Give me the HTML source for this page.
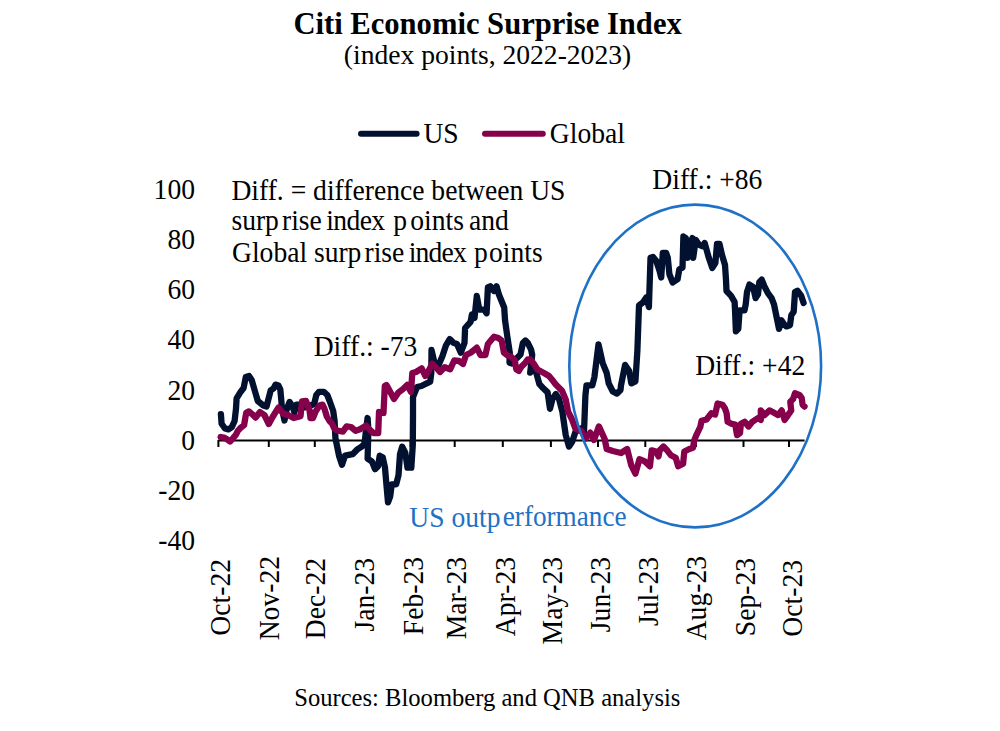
<!DOCTYPE html>
<html><head><meta charset="utf-8"><style>
html,body{margin:0;padding:0;background:#fff;}
body{width:1000px;height:731px;position:relative;overflow:hidden;font-family:"Liberation Serif",serif;color:#000;}
.t{position:absolute;white-space:nowrap;line-height:1;}
.yl{position:absolute;right:805px;font-size:27.6px;line-height:32px;text-align:right;transform:scaleY(1.065);transform-origin:0 25.3px;}
.xl{position:absolute;top:657px;width:100px;text-align:right;font-size:27.6px;line-height:1;white-space:nowrap;transform-origin:0 0;transform:rotate(-90deg) scaleY(1.07);}
svg{position:absolute;left:0;top:0;}
</style></head><body>
<div class="t" style="left:293.39px;top:8.67px;font-size:30.6px;font-weight:bold;">Citi Economic Surprise Index</div>
<div class="t" style="left:343.80px;top:40.98px;font-size:27.6px;">(index points, 2022-2023)</div>
<div class="t" style="left:423.40px;top:120.09px;font-size:27.6px;transform:scaleY(1.045);transform-origin:0 23.12px;">US</div>
<div class="t" style="left:549.80px;top:119.88px;font-size:27.6px;transform:scaleY(1.045);transform-origin:0 23.12px;">Global</div>
<div class="t" style="left:231.40px;top:176.78px;font-size:27.6px;transform:scaleY(1.045);transform-origin:0 23.12px;">Diff. = difference between US</div>
<div class="t" style="left:231.40px;top:207.09px;font-size:27.6px;transform:scaleY(1.045);transform-origin:0 23.12px;">surp</div>
<div class="t" style="left:282.00px;top:207.09px;font-size:27.6px;transform:scaleY(1.045);transform-origin:0 23.12px;">rise</div>
<div class="t" style="left:326.20px;top:207.09px;font-size:27.6px;transform:scaleY(1.045);transform-origin:0 23.12px;letter-spacing:-0.6px;">index</div>
<div class="t" style="left:393.30px;top:207.09px;font-size:27.6px;transform:scaleY(1.045);transform-origin:0 23.12px;">p</div>
<div class="t" style="left:410.30px;top:207.09px;font-size:27.6px;transform:scaleY(1.045);transform-origin:0 23.12px;">oints</div>
<div class="t" style="left:469.00px;top:207.09px;font-size:27.6px;transform:scaleY(1.045);transform-origin:0 23.12px;">and</div>
<div class="t" style="left:232.00px;top:239.18px;font-size:27.6px;transform:scaleY(1.045);transform-origin:0 23.12px;">Global</div>
<div class="t" style="left:313.90px;top:239.18px;font-size:27.6px;transform:scaleY(1.045);transform-origin:0 23.12px;">surp</div>
<div class="t" style="left:364.50px;top:239.18px;font-size:27.6px;transform:scaleY(1.045);transform-origin:0 23.12px;">rise</div>
<div class="t" style="left:408.75px;top:239.18px;font-size:27.6px;transform:scaleY(1.045);transform-origin:0 23.12px;letter-spacing:-0.8px;">index</div>
<div class="t" style="left:474.00px;top:239.18px;font-size:27.6px;transform:scaleY(1.045);transform-origin:0 23.12px;">p</div>
<div class="t" style="left:489.00px;top:239.18px;font-size:27.6px;transform:scaleY(1.045);transform-origin:0 23.12px;">oints</div>
<div class="t" style="left:652.30px;top:165.78px;font-size:27.6px;transform:scaleY(1.045);transform-origin:0 23.12px;">Diff.: +86</div>
<div class="t" style="left:313.70px;top:332.88px;font-size:27.6px;transform:scaleY(1.045);transform-origin:0 23.12px;">Diff.: -73</div>
<div class="t" style="left:695.20px;top:352.48px;font-size:27.6px;transform:scaleY(1.045);transform-origin:0 23.12px;">Diff.: +42</div>
<div class="t" style="left:409.30px;top:503.58px;font-size:27.6px;transform:scaleY(1.045);transform-origin:0 23.12px;color:#1e71c6;">US outp</div>
<div class="t" style="left:502.81px;top:503.92px;font-size:27.2px;transform:scaleY(1.045);transform-origin:0 22.78px;color:#1e71c6;">erformance</div>
<div class="t" style="left:294.22px;top:685.90px;font-size:24.6px;">Sources: Bloomberg and QNB analysis</div>
<div class="yl" style="top:174.2px">100</div><div class="yl" style="top:224.2px">80</div><div class="yl" style="top:274.2px">60</div><div class="yl" style="top:324.2px">40</div><div class="yl" style="top:375.2px">20</div><div class="yl" style="top:425.2px">0</div><div class="yl" style="top:475.2px">-20</div><div class="yl" style="top:525.2px">-40</div>
<div class="xl" style="left:205.00px;top:659.30px">Oct-22</div><div class="xl" style="left:253.50px;top:655.80px">Nov-22</div><div class="xl" style="left:300.10px;top:657.90px">Dec-22</div><div class="xl" style="left:348.60px;top:657.90px">Jan-23</div><div class="xl" style="left:398.20px;top:657.20px">Feb-23</div><div class="xl" style="left:441.30px;top:657.40px">Mar-23</div><div class="xl" style="left:490.30px;top:656.70px">Apr-23</div><div class="xl" style="left:537.30px;top:657.40px">May-23</div><div class="xl" style="left:584.90px;top:657.40px">Jun-23</div><div class="xl" style="left:633.20px;top:657.40px">Jul-23</div><div class="xl" style="left:680.80px;top:656.00px">Aug-23</div><div class="xl" style="left:730.40px;top:657.90px">Sep-23</div><div class="xl" style="left:776.90px;top:660.00px">Oct-23</div>
<svg width="1000" height="731" viewBox="0 0 1000 731">
<g stroke="#000" stroke-width="2" fill="none">
<line x1="218" y1="440.4" x2="804.6" y2="440.4"/>
<line x1="218.4" y1="440" x2="218.4" y2="447" /><line x1="268.8" y1="440" x2="268.8" y2="447" /><line x1="314.8" y1="440" x2="314.8" y2="447" /><line x1="362.5" y1="440" x2="362.5" y2="447" /><line x1="410.5" y1="440" x2="410.5" y2="447" /><line x1="454.7" y1="440" x2="454.7" y2="447" /><line x1="502.8" y1="440" x2="502.8" y2="447" /><line x1="550.9" y1="440" x2="550.9" y2="447" /><line x1="598" y1="440" x2="598" y2="447" /><line x1="645.3" y1="440" x2="645.3" y2="447" /><line x1="696" y1="440" x2="696" y2="447" /><line x1="743.5" y1="440" x2="743.5" y2="447" /><line x1="789" y1="440" x2="789" y2="447" />
</g>
<line x1="361" y1="133.8" x2="416.6" y2="133.8" stroke="#02112f" stroke-width="6" stroke-linecap="round"/>
<line x1="485" y1="133.8" x2="542.8" y2="133.8" stroke="#86004c" stroke-width="6" stroke-linecap="round"/>
<polyline points="220.9,414.1 221.6,423.7 225.0,428.5 228.4,429.4 231.8,427.1 234.6,421.0 236.0,408.7 236.6,398.4 240.3,392.4 243.6,388.0 245.8,377.0 249.0,376.0 251.8,380.3 255.6,393.5 257.8,401.0 263.3,405.5 266.5,406.6 269.7,394.2 270.7,390.3 273.6,388.4 275.5,384.6 278.4,385.5 280.3,389.4 281.2,399.0 282.0,409.0 284.5,420.5 286.5,410.0 289.6,401.9 292.3,406.0 294.4,412.2 296.4,404.7 300.5,404.7 304.7,407.4 309.0,406.0 314.2,404.0 316.3,395.0 319.0,391.8 323.8,391.8 327.3,395.0 329.8,401.5 333.2,411.0 334.6,421.0 335.4,438.0 339.0,455.7 342.0,464.7 345.0,455.7 352.6,454.2 357.0,449.7 361.6,446.7 364.6,443.6 366.0,430.0 367.6,418.0 368.4,430.0 367.6,458.7 372.0,461.7 375.0,469.2 378.0,466.2 379.7,455.7 382.7,457.2 385.0,467.7 386.4,484.3 388.0,502.3 390.2,496.3 391.7,484.3 396.2,484.3 398.5,475.3 400.0,454.2 402.2,446.7 405.3,452.7 407.5,467.7 411.3,467.7 412.8,445.0 413.0,415.0 413.0,397.0 417.0,387.0 421.4,386.0 430.2,381.6 431.3,372.8 431.5,350.0 435.0,365.0 438.6,365.0 442.3,356.4 446.0,345.3 449.7,339.1 453.4,342.8 457.0,344.0 460.8,352.7 464.5,342.8 465.1,328.0 470.6,321.9 471.9,314.5 474.5,318.0 476.8,296.0 479.3,309.6 484.2,309.6 486.6,313.3 487.9,287.4 490.3,286.2 494.0,291.0 496.5,286.2 499.0,294.8 504.2,307.5 505.0,320.0 507.3,336.4 509.8,352.8 509.5,362.7 512.0,363.5 517.0,358.0 520.5,354.5 522.9,343.0 525.4,340.5 527.8,343.0 531.1,349.6 532.2,355.0 530.2,372.7 534.5,366.5 539.4,384.2 543.0,388.0 547.6,392.4 550.0,408.8 552.5,399.0 555.8,394.0 559.0,399.0 562.4,412.0 565.7,435.0 569.0,446.6 572.2,441.7 575.5,431.8 580.5,428.5 584.0,431.8 585.4,395.7 586.5,385.4 592.3,385.4 594.4,377.2 598.5,344.4 602.6,362.8 606.7,373.0 608.7,383.3 612.8,391.5 617.0,393.6 620.5,390.0 621.0,385.4 625.1,364.9 629.2,371.0 631.3,383.3 635.4,381.3 637.4,350.5 639.0,305.5 643.1,302.2 646.4,297.2 648.9,307.1 650.5,257.8 653.0,257.0 656.3,261.1 659.6,271.0 661.2,277.5 662.8,252.9 666.1,252.9 667.8,257.8 669.4,274.3 672.7,282.5 677.6,279.2 679.3,269.3 682.5,267.7 683.4,236.5 685.8,238.1 687.5,257.8 689.1,246.3 692.4,238.1 693.2,257.8 695.7,239.8 699.0,244.7 702.2,246.3 704.7,243.0 708.8,257.8 712.3,268.0 715.4,262.8 717.0,244.0 719.5,244.0 722.0,255.0 725.0,265.0 726.0,280.0 726.5,291.0 730.9,295.6 734.6,301.8 735.2,314.1 735.9,331.4 738.3,328.9 739.6,310.4 744.5,310.4 745.7,304.3 747.0,292.0 749.4,284.6 753.1,287.0 755.6,298.1 758.0,294.4 759.3,282.1 761.7,279.6 764.2,285.8 767.9,293.2 771.6,298.1 774.0,304.3 776.5,316.6 779.0,328.9 781.4,320.3 783.9,324.0 786.4,326.4 790.0,325.2 791.3,315.3 793.7,311.7 795.0,292.0 797.4,290.7 801.1,295.6 803.6,303.0" fill="none" stroke="#02112f" stroke-width="6.3" stroke-linejoin="round" stroke-linecap="round"/>
<polyline points="220.6,437.0 224.0,437.6 227.0,439.2 230.0,441.5 232.5,438.8 235.9,434.7 238.0,430.6 240.7,427.8 244.1,425.1 246.2,412.8 248.9,411.4 252.0,414.1 255.6,417.6 260.0,412.0 264.4,415.0 268.8,424.0 272.6,417.0 278.4,407.6 283.2,413.5 288.0,415.0 293.7,418.0 300.5,416.3 302.0,401.5 306.0,401.0 309.5,410.0 310.5,418.0 313.0,418.0 315.6,411.5 319.7,405.3 322.5,404.7 324.5,408.8 326.8,416.5 329.5,421.0 332.0,423.5 334.0,428.0 337.0,430.5 339.5,431.0 342.8,431.6 346.6,426.3 351.0,427.0 355.6,430.9 360.0,429.3 366.0,425.6 370.0,430.0 373.6,433.1 378.2,433.1 379.0,412.0 383.5,413.0 384.8,386.0 386.5,385.0 390.0,391.5 394.0,399.0 398.4,392.5 402.8,389.2 407.2,384.9 411.0,392.0 412.3,373.0 416.0,372.0 421.7,368.4 425.3,376.0 428.0,372.0 432.3,363.6 437.0,368.4 440.0,372.0 444.6,367.2 450.2,369.3 454.2,360.5 459.0,361.0 463.0,364.0 466.0,355.0 470.6,352.7 476.8,347.7 480.5,355.1 485.4,355.1 487.9,344.0 494.0,336.7 498.3,338.0 501.6,340.5 504.0,352.8 507.3,355.3 511.4,357.0 514.7,360.2 516.3,369.3 518.8,371.0 521.3,366.8 525.4,362.7 527.8,359.4 530.3,359.4 533.6,363.5 537.4,369.5 544.8,373.5 549.0,376.0 552.1,379.7 555.8,384.6 562.0,390.8 565.7,399.4 568.1,411.7 571.8,419.0 575.5,428.9 581.7,431.3 585.4,438.7 590.3,432.6 594.0,440.0 598.9,426.4 604.6,438.7 606.7,449.0 612.8,451.0 621.0,453.0 627.2,449.0 631.3,465.4 635.4,473.6 639.5,459.2 644.9,461.4 649.9,466.3 651.7,450.3 656.0,451.5 658.5,456.4 659.7,450.3 663.4,446.6 667.1,450.3 670.8,455.2 675.7,457.7 678.2,466.3 683.1,463.8 684.3,451.5 689.3,449.0 693.0,447.8 694.2,440.4 696.7,434.3 700.3,426.9 701.6,420.7 706.5,419.5 711.4,413.3 715.1,414.6 717.6,403.5 722.5,404.7 725.0,408.4 726.6,413.2 727.6,421.8 731.4,423.7 735.2,424.6 737.1,435.1 740.0,433.2 740.9,423.7 744.7,421.8 748.5,426.5 752.3,421.8 758.0,418.0 760.8,419.9 760.8,410.4 764.6,415.1 769.4,410.4 773.2,412.3 778.0,415.1 781.7,410.4 784.6,419.9 787.4,416.1 791.2,410.4 790.3,401.8 793.1,399.0 795.0,393.3 799.8,395.2 801.7,398.0 802.6,404.7 804.5,406.6" fill="none" stroke="#86004c" stroke-width="6.3" stroke-linejoin="round" stroke-linecap="round"/>
<ellipse cx="695.2" cy="366" rx="125.9" ry="161.4" fill="none" stroke="#1e71c6" stroke-width="2.6"/>
</svg>
</body></html>
